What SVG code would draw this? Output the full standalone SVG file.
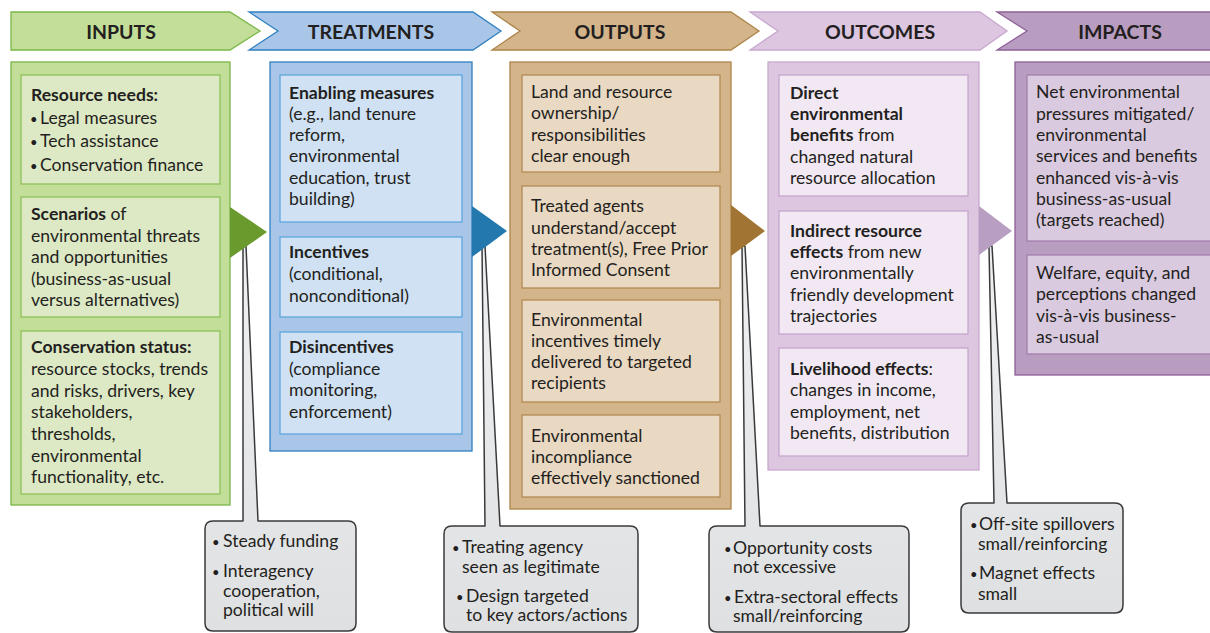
<svg xmlns="http://www.w3.org/2000/svg" width="1210" height="633" viewBox="0 0 1210 633">
  <defs>
    <linearGradient id="calloutFill" x1="0" y1="0" x2="0" y2="1">
      <stop offset="0" stop-color="#eff0f1"/>
      <stop offset="1" stop-color="#dfe0e2"/>
    </linearGradient>
    <style>
      text { font-family: Lato, "Liberation Sans", sans-serif; font-size: 17.6px; fill: #231f20; }
      .hd { font-size: 19.5px; font-weight: bold; text-anchor: middle; }
      .b { font-weight: bold; }
      .dot { font-size: 13px; }
      .callout { fill: url(#calloutFill); stroke: #3a3a3c; stroke-width: 1.5; stroke-linejoin: round; }
      .in-h { fill: #c3de98; stroke: #7ab648; stroke-width: 1.3; }
      .in-box { fill: #dde9c5; stroke: #8fc15a; stroke-width: 1.3; }
      .tr-h { fill: #a9c6e8; stroke: #2f80c0; stroke-width: 1.3; }
      .tr-box { fill: #cfe1f3; stroke: #5ea7dd; stroke-width: 1.3; }
      .op-h { fill: #d3b48b; stroke: #ad8449; stroke-width: 1.3; }
      .op-box { fill: #e9d8c2; stroke: #b38a52; stroke-width: 1.3; }
      .oc-h { fill: #dcc6e0; stroke: #c9a8cf; stroke-width: 1.3; }
      .oc-box { fill: #f1e8f3; stroke: #c7a6ce; stroke-width: 1.3; }
      .im-h { fill: #b99dc0; stroke: #8f5f98; stroke-width: 1.3; }
      .im-box { fill: #dacadf; stroke: #a57fae; stroke-width: 1.3; }
    </style>
  </defs>

  <!-- stage header arrows -->
  <g id="header-inputs">
    <polygon class="in-h" points="11,12 230,12 260,31 230,50 11,50"/>
    <text class="hd" x="121" y="39">INPUTS</text>
  </g>
  <g id="header-treatments">
    <polygon class="tr-h" points="249,12 473,12 501,31 473,50 249,50 278,31"/>
    <text class="hd" x="371" y="39">TREATMENTS</text>
  </g>
  <g id="header-outputs">
    <polygon class="op-h" points="492,12 731,12 759,31 731,50 492,50 520,31"/>
    <text class="hd" x="620" y="39">OUTPUTS</text>
  </g>
  <g id="header-outcomes">
    <polygon class="oc-h" points="750,12 980,12 1007,31 980,50 750,50 778,31"/>
    <text class="hd" x="880" y="39">OUTCOMES</text>
  </g>
  <g id="header-impacts">
    <polygon class="im-h" points="997,12 1214,12 1214,50 997,50 1027,31"/>
    <text class="hd" x="1120" y="39">IMPACTS</text>
  </g>

  <!-- callout tails and bubbles -->
  <g id="connectors">
    <path id="callout-inputs" class="callout" d="M213,521 L243,521 L243,246 L246,246 L258,521 L348,521 Q356,521 356,529 L356,623 Q356,631 348,631 L213,631 Q205,631 205,623 L205,529 Q205,521 213,521 Z"/>
    <path id="callout-treatments" class="callout" d="M452,526 L485,526 L482,246 L485,246 L500,526 L630,526 Q638,526 638,534 L638,624 Q638,632 630,632 L452,632 Q444,632 444,624 L444,534 Q444,526 452,526 Z"/>
    <path id="callout-outputs" class="callout" d="M717,526 L745,526 L742,246 L745,246 L760,526 L901,526 Q909,526 909,534 L909,624 Q909,632 901,632 L717,632 Q709,632 709,624 L709,534 Q709,526 717,526 Z"/>
    <path id="callout-outcomes" class="callout" d="M969,503 L994,503 L989,246 L992,246 L1007,503 L1115,503 Q1123,503 1123,511 L1123,605 Q1123,613 1115,613 L969,613 Q961,613 961,605 L961,511 Q961,503 969,503 Z"/>
  </g>

  <!-- INPUTS column -->
  <g id="inputs">
    <rect class="in-h" x="11" y="62" width="219" height="443"/>
    <g id="resource-needs">
      <rect class="in-box" x="21" y="75" width="199" height="109"/>
      <text x="31" y="101" class="b">Resource needs:</text>
      <text y="124"><tspan class="dot" x="30">•</tspan><tspan x="40">Legal measures</tspan></text>
      <text y="147"><tspan class="dot" x="30">•</tspan><tspan x="40">Tech assistance</tspan></text>
      <text y="171"><tspan class="dot" x="30">•</tspan><tspan x="40">Conservation finance</tspan></text>
    </g>
    <g id="scenarios">
      <rect class="in-box" x="21" y="197" width="199" height="120"/>
      <text x="31" y="220"><tspan class="b">Scenarios</tspan> of</text>
      <text x="31" y="242">environmental threats</text>
      <text x="31" y="263">and opportunities</text>
      <text x="31" y="285">(business-as-usual</text>
      <text x="31" y="306">versus alternatives)</text>
    </g>
    <g id="conservation-status">
      <rect class="in-box" x="21" y="331" width="199" height="163"/>
      <text x="31" y="353" class="b">Conservation status:</text>
      <text x="31" y="375">resource stocks, trends</text>
      <text x="31" y="397">and risks, drivers, key</text>
      <text x="31" y="418">stakeholders,</text>
      <text x="31" y="440">thresholds,</text>
      <text x="31" y="462">environmental</text>
      <text x="31" y="483">functionality, etc.</text>
    </g>
    <polygon id="inputs-pointer" fill="#6a9a2e" points="230,207 267,232 230,258"/>
  </g>

  <!-- TREATMENTS column -->
  <g id="treatments">
    <rect class="tr-h" x="270" y="62" width="202" height="389"/>
    <g id="enabling-measures">
      <rect class="tr-box" x="280" y="75" width="182" height="147"/>
      <text x="289" y="99" class="b">Enabling measures</text>
      <text x="289" y="120">(e.g., land tenure</text>
      <text x="289" y="141">reform,</text>
      <text x="289" y="162">environmental</text>
      <text x="289" y="184">education, trust</text>
      <text x="289" y="205">building)</text>
    </g>
    <g id="incentives">
      <rect class="tr-box" x="280" y="237" width="182" height="80"/>
      <text x="289" y="258" class="b">Incentives</text>
      <text x="289" y="280">(conditional,</text>
      <text x="289" y="302">nonconditional)</text>
    </g>
    <g id="disincentives">
      <rect class="tr-box" x="280" y="332" width="182" height="102"/>
      <text x="289" y="353" class="b">Disincentives</text>
      <text x="289" y="375">(compliance</text>
      <text x="289" y="396">monitoring,</text>
      <text x="289" y="418">enforcement)</text>
    </g>
    <polygon id="treatments-pointer" fill="#2379ad" points="472,206 507,231 472,257"/>
  </g>

  <!-- OUTPUTS column -->
  <g id="outputs">
    <rect class="op-h" x="510" y="62" width="221" height="447"/>
    <g id="ownership">
      <rect class="op-box" x="522" y="75" width="198" height="97"/>
      <text x="531" y="98">Land and resource</text>
      <text x="531" y="119">ownership/</text>
      <text x="531" y="141">responsibilities</text>
      <text x="531" y="162">clear enough</text>
    </g>
    <g id="agents-accept">
      <rect class="op-box" x="522" y="186" width="198" height="102"/>
      <text x="531" y="212">Treated agents</text>
      <text x="531" y="234">understand/accept</text>
      <text x="531" y="255">treatment(s), Free Prior</text>
      <text x="531" y="276">Informed Consent</text>
    </g>
    <g id="incentives-delivered">
      <rect class="op-box" x="522" y="300" width="198" height="102"/>
      <text x="531" y="326">Environmental</text>
      <text x="531" y="347">incentives timely</text>
      <text x="531" y="368">delivered to targeted</text>
      <text x="531" y="389">recipients</text>
    </g>
    <g id="incompliance-sanctioned">
      <rect class="op-box" x="522" y="415" width="198" height="82"/>
      <text x="531" y="442">Environmental</text>
      <text x="531" y="463">incompliance</text>
      <text x="531" y="484">effectively sanctioned</text>
    </g>
    <polygon id="outputs-pointer" fill="#a27433" points="731,205 765,231 731,256"/>
  </g>

  <!-- OUTCOMES column -->
  <g id="outcomes">
    <rect class="oc-h" x="768" y="62" width="211" height="408"/>
    <g id="direct-benefits">
      <rect class="oc-box" x="779" y="75" width="189" height="121"/>
      <text x="790" y="99" class="b">Direct</text>
      <text x="790" y="120" class="b">environmental</text>
      <text x="790" y="141"><tspan class="b">benefits</tspan> from</text>
      <text x="790" y="163">changed natural</text>
      <text x="790" y="184">resource allocation</text>
    </g>
    <g id="indirect-effects">
      <rect class="oc-box" x="779" y="211" width="189" height="123"/>
      <text x="790" y="237" class="b">Indirect resource</text>
      <text x="790" y="258"><tspan class="b">effects</tspan> from new</text>
      <text x="790" y="279">environmentally</text>
      <text x="790" y="301">friendly development</text>
      <text x="790" y="322">trajectories</text>
    </g>
    <g id="livelihood-effects">
      <rect class="oc-box" x="779" y="348" width="189" height="108"/>
      <text x="790" y="375"><tspan class="b">Livelihood effects</tspan>:</text>
      <text x="790" y="396">changes in income,</text>
      <text x="790" y="418">employment, net</text>
      <text x="790" y="439">benefits, distribution</text>
    </g>
    <polygon id="outcomes-pointer" fill="#b89fc1" points="979,206 1012,231 979,255"/>
  </g>

  <!-- IMPACTS column -->
  <g id="impacts">
    <rect class="im-h" x="1015" y="62" width="200" height="313"/>
    <g id="net-pressures">
      <rect class="im-box" x="1027" y="75" width="190" height="166"/>
      <text x="1036" y="98">Net environmental</text>
      <text x="1036" y="120">pressures mitigated/</text>
      <text x="1036" y="141">environmental</text>
      <text x="1036" y="162">services and benefits</text>
      <text x="1036" y="184">enhanced vis-à-vis</text>
      <text x="1036" y="205">business-as-usual</text>
      <text x="1036" y="226">(targets reached)</text>
    </g>
    <g id="welfare">
      <rect class="im-box" x="1027" y="255" width="190" height="99"/>
      <text x="1036" y="279">Welfare, equity, and</text>
      <text x="1036" y="300">perceptions changed</text>
      <text x="1036" y="322">vis-à-vis business-</text>
      <text x="1036" y="343">as-usual</text>
    </g>
  </g>

  <!-- callout texts -->
  <g id="callout-inputs-text">
    <text y="547"><tspan class="dot" x="212">•</tspan><tspan x="223">Steady funding</tspan></text>
    <text y="577"><tspan class="dot" x="212">•</tspan><tspan x="223">Interagency</tspan></text>
    <text x="223" y="597">cooperation,</text>
    <text x="223" y="616">political will</text>
  </g>
  <g id="callout-treatments-text">
    <text y="553"><tspan class="dot" x="452">•</tspan><tspan x="462">Treating agency</tspan></text>
    <text x="462" y="573">seen as legitimate</text>
    <text y="602"><tspan class="dot" x="456">•</tspan><tspan x="466">Design targeted</tspan></text>
    <text x="466" y="621">to key actors/actions</text>
  </g>
  <g id="callout-outputs-text">
    <text y="554"><tspan class="dot" x="724">•</tspan><tspan x="733">Opportunity costs</tspan></text>
    <text x="733" y="573">not excessive</text>
    <text y="603"><tspan class="dot" x="724">•</tspan><tspan x="734">Extra-sectoral effects</tspan></text>
    <text x="733" y="622">small/reinforcing</text>
  </g>
  <g id="callout-outcomes-text">
    <text y="530"><tspan class="dot" x="970">•</tspan><tspan x="979">Off-site spillovers</tspan></text>
    <text x="978" y="550">small/reinforcing</text>
    <text y="579"><tspan class="dot" x="970">•</tspan><tspan x="979">Magnet effects</tspan></text>
    <text x="978" y="600">small</text>
  </g>
</svg>
